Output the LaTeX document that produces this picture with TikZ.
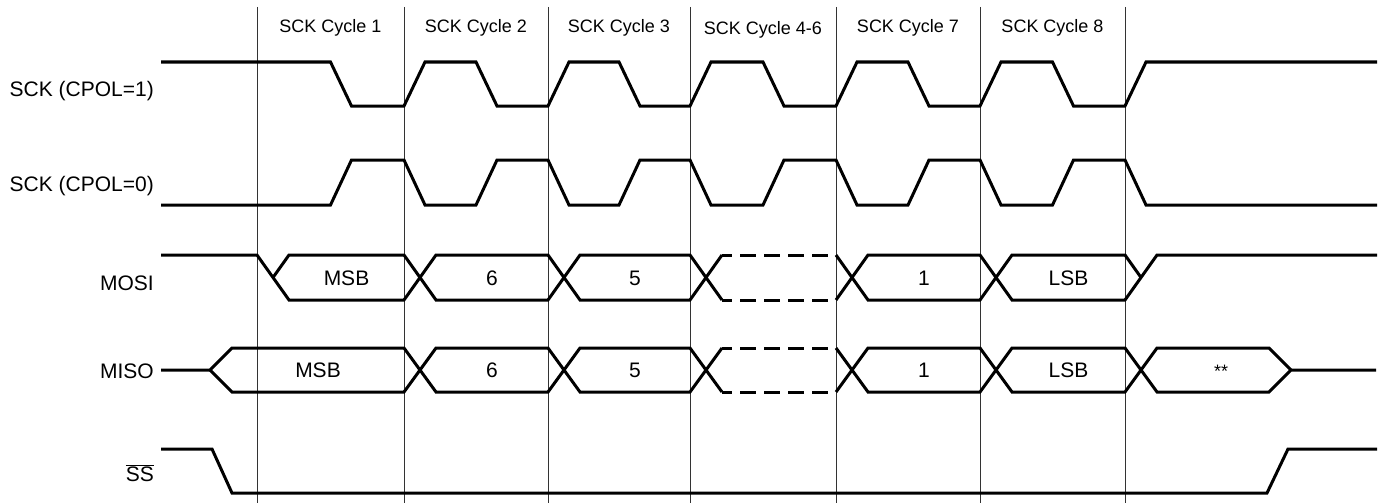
\documentclass[tikz,border=0pt]{standalone}
\usepackage{fontspec}
\setmainfont{Liberation Sans}
\begin{document}
\begin{tikzpicture}[x=1pt,y=-1pt,
  sig/.style={line width=3pt, line join=miter, line cap=butt},
  gridline/.style={line width=1pt, black!80},
  lab/.style={font=\fontsize{21}{25}\selectfont, inner sep=0pt, anchor=base east},
  cyc/.style={font=\fontsize{18}{22}\selectfont, inner sep=0pt, anchor=base},
  dat/.style={font=\fontsize{21}{25}\selectfont, inner sep=0pt, anchor=base},
  dsh/.style={sig, dash pattern=on 16pt off 8pt, dash phase=6pt}]
\useasboundingbox (0,0) rectangle (1380,503);

% cycle boundaries
\foreach \xx/\nm in {257/a,404/b,548/c,690/d,836/e,980/f,1125/g}{
  \coordinate (top\nm) at (\xx,7);
  \coordinate (bot\nm) at (\xx,503);
  \draw[gridline] (top\nm) -- (bot\nm);
}

% cycle labels
\node[cyc] (c1) at (330.5,33) {SCK Cycle 1};
\node[cyc] (c2) at (476,33) {SCK Cycle 2};
\node[cyc] (c3) at (619,33) {SCK Cycle 3};
\node[cyc] (c4) at (763,35) {SCK Cycle 4-6};
\node[cyc] (c7) at (908,33) {SCK Cycle 7};
\node[cyc] (c8) at (1052.5,33) {SCK Cycle 8};

% signal labels
\node[lab] (l1) at (154,96.5) {SCK (CPOL=1)};
\node[lab] (l2) at (154,191.5) {SCK (CPOL=0)};
\node[lab] (l3) at (154,290.5) {MOSI};
\node[lab] (l4) at (154,378) {MISO};
\node[lab] (l5) at (154,481.5) {$\overline{\hbox{SS}}$};

% SCK CPOL=1
\draw[sig] (161,62) -- (330.5,62) -- (351.5,106) -- (404,106) -- (425,62)
  -- (476,62) -- (497,106) -- (548,106) -- (569,62) -- (619,62) -- (640,106)
  -- (690,106) -- (711,62) -- (763,62) -- (784,106) -- (836,106) -- (857,62)
  -- (908,62) -- (929,106) -- (980,106) -- (1001,62) -- (1052.5,62)
  -- (1073.5,106) -- (1125,106) -- (1146,62) -- (1377,62);

% SCK CPOL=0
\draw[sig] (161,205) -- (330.5,205) -- (351.5,160) -- (404,160) -- (425,205)
  -- (476,205) -- (497,160) -- (548,160) -- (569,205) -- (619,205) -- (640,160)
  -- (690,160) -- (711,205) -- (763,205) -- (784,160) -- (836,160) -- (857,205)
  -- (908,205) -- (929,160) -- (980,160) -- (1001,205) -- (1052.5,205)
  -- (1073.5,160) -- (1125,160) -- (1146,205) -- (1377,205);

% MOSI
\draw[sig] (161,255) -- (257,255) -- (289,300) -- (404,300) -- (436,255)
  -- (548,255) -- (580,300) -- (690,300) -- (722,255);
\draw[sig] (273,277.5) -- (289,255) -- (404,255) -- (436,300) -- (548,300)
  -- (580,255) -- (690,255) -- (722,300);
\draw[dsh] (722,255) -- (836,255);
\draw[dsh] (722,300) -- (836,300);
\draw[sig] (836,255) -- (868,300) -- (980,300) -- (1012,255) -- (1125,255)
  -- (1141,277.5);
\draw[sig] (836,300) -- (868,255) -- (980,255) -- (1012,300) -- (1125,300)
  -- (1157,255) -- (1377,255);

% MISO
\draw[sig] (161,370) -- (210,370) -- (232,348) -- (404,348) -- (436,392)
  -- (548,392) -- (580,348) -- (690,348) -- (722,392);
\draw[sig] (210,370) -- (232,392) -- (404,392) -- (436,348) -- (548,348)
  -- (580,392) -- (690,392) -- (722,348);
\draw[dsh] (722,348) -- (836,348);
\draw[dsh] (722,392) -- (836,392);
\draw[sig] (836,348) -- (868,392) -- (980,392) -- (1012,348) -- (1125,348)
  -- (1157,392) -- (1269,392) -- (1291,370) -- (1376,370);
\draw[sig] (836,392) -- (868,348) -- (980,348) -- (1012,392) -- (1125,392)
  -- (1157,348) -- (1269,348) -- (1291,370);

% SS
\draw[sig] (161,449) -- (212,449) -- (232,493) -- (1267,493) -- (1288,449)
  -- (1377,449);

% data labels
\node[dat] (o1) at (346.5,285) {MSB};
\node[dat] (o2) at (492,285) {6};
\node[dat] (o3) at (635,285) {5};
\node[dat] (o7) at (924,285) {1};
\node[dat] (o8) at (1068.5,285) {LSB};
\node[dat] (i1) at (318,377.5) {MSB};
\node[dat] (i2) at (492,377.5) {6};
\node[dat] (i3) at (635,377.5) {5};
\node[dat] (i7) at (924,377.5) {1};
\node[dat] (i8) at (1068.5,377.5) {LSB};
\node[dat, font=\fontsize{18}{22}\selectfont] (i9) at (1221,377.5) {**};
\end{tikzpicture}
\end{document}
